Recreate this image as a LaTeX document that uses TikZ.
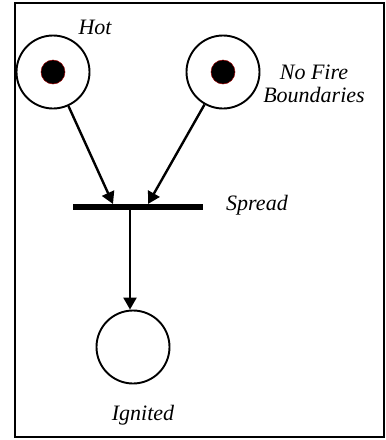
\documentclass[tikz,border=0pt]{standalone}
\usepackage{fontspec}
\setmainfont{Liberation Serif}
\usetikzlibrary{arrows.meta}
\begin{document}
\begin{tikzpicture}[x=1pt,y=-1pt,
  place/.style={circle,draw,line width=1.9pt,minimum size=73pt,inner sep=0pt},
  token/.style={circle,fill=black,draw=red!60!black,line width=0.5pt,minimum size=24pt,inner sep=0pt},
  lbl/.style={font=\fontsize{22}{25}\selectfont\itshape,inner sep=0pt,align=center},
  arc/.style={line width=2.4pt,-{Triangle[length=12pt,width=13pt]}}]
\useasboundingbox (0,0) rectangle (386,440);
\draw[line width=1.6pt] (15,3) rectangle (384,437);
\node[place] (hot) at (53,72) {};
\node[token] at (hot.center) {};
\node[place] (nofire) at (223,72) {};
\node[token] at (nofire.center) {};
\node[place] (ign) at (133,347) {};
\draw[line width=6pt] (73,207) -- (203,207);
\coordinate (inL) at (113,204);
\coordinate (inR) at (148,204);
\coordinate (outB) at (130,207);
\draw[arc] (hot) -- (inL);
\draw[arc] (nofire) -- (inR);
\draw[arc] (outB) -- (outB |- ign.north);
\node[lbl] at (95,27) {Hot};
\node[lbl] at (314,84) {No Fire\\[-2pt]Boundaries};
\node[lbl] at (257,205) {Spread};
\node[lbl] at (143,415) {Ignited};
\end{tikzpicture}
\end{document}
